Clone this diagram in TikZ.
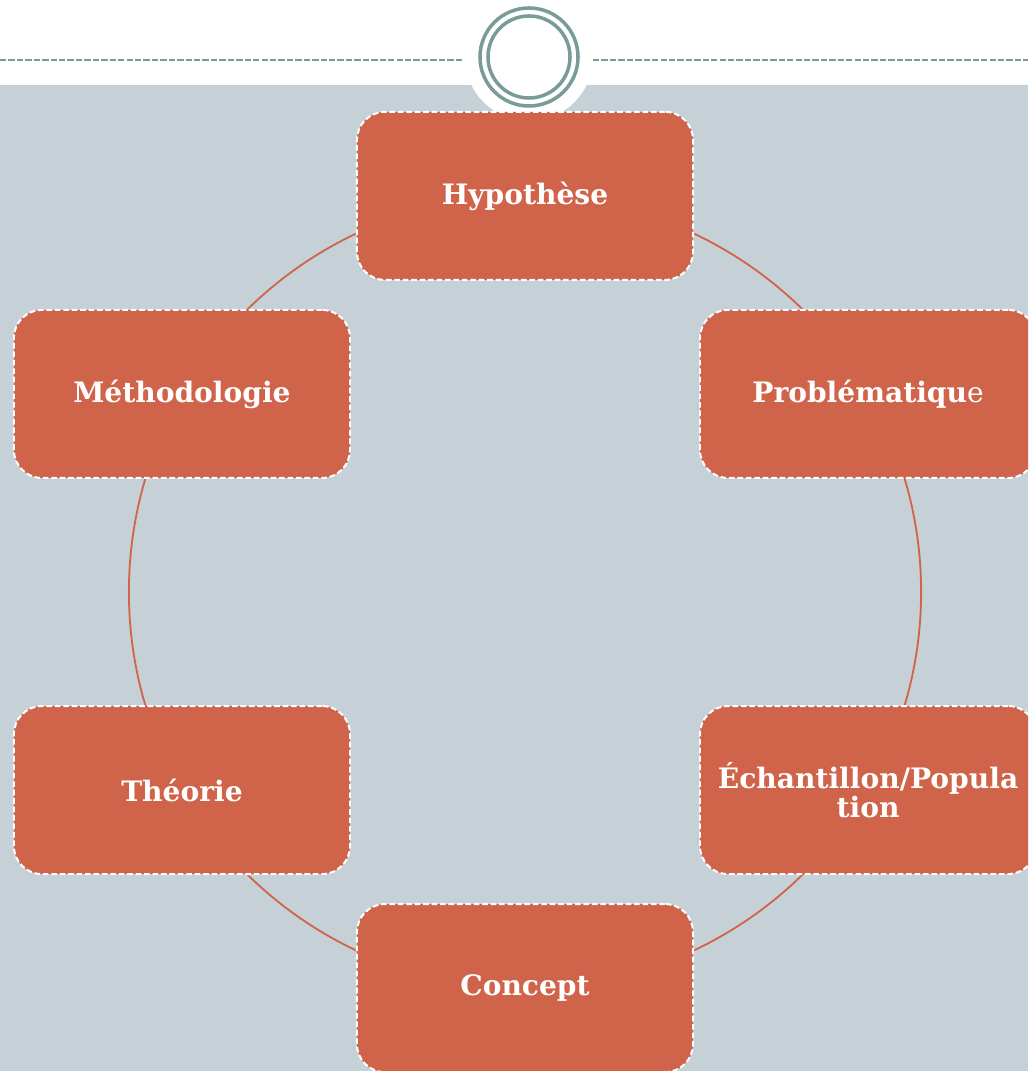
\documentclass[tikz,border=0pt]{standalone}
\usepackage{fontspec}
\setmainfont{DejaVu Serif}
\usetikzlibrary{positioning}
\definecolor{boxred}{RGB}{208,100,74}
\definecolor{bggray}{RGB}{197,209,215}
\definecolor{ringteal}{RGB}{122,156,152}

\begin{document}
\begin{tikzpicture}[x=0.025cm, y=0.025cm,
    box/.style={draw=white, dash pattern=on 4pt off 2pt, line width=1.4pt,
      fill=boxred, rounded corners=0.7cm, minimum width=8.4cm, minimum height=4.2cm,
      text=white, align=center, font=\fontsize{20}{19}\selectfont\bfseries},
    cycleline/.style={draw=boxred, line width=1.3pt},
    topline/.style={draw=ringteal, dash pattern=on 4.5pt off 1.5pt, line width=1pt}]
    \useasboundingbox (0,0) rectangle (1028,1071);
    \clip (0,0) rectangle (1028,1071);
    \fill[white] (0,0) rectangle (1028,1071);
    \fill[bggray] (0,0) rectangle (1028,986);

    \draw[topline] (0,1011) -- (463,1011);
    \draw[topline] (593,1011) -- (1028,1011);
    \coordinate (ring) at (529,1014);
    \fill[white] (ring) circle (1.6cm);
    \draw[ringteal, line width=2.5pt] (ring) circle (1.225cm);
    \draw[ringteal, line width=2.5pt] (ring) circle (1.025cm);

    \coordinate (ctr) at (525,479);
    \draw[cycleline] (ctr) circle (9.9cm);

    \node[box](hyp) at ([shift={(90:9.9cm)}]ctr) {Hypothèse};
    \node[box](prob) at ([shift={(30:9.9cm)}]ctr) {Problématiqu{\mdseries e}};
    \node[box](ech) at ([shift={(-30:9.9cm)}]ctr) {Échantillon/Popula\\tion};
    \node[box](conc) at ([shift={(-90:9.9cm)}]ctr) {Concept};
    \node[box](theo) at ([shift={(-150:9.9cm)}]ctr) {Théorie};
    \node[box](meth) at ([shift={(150:9.9cm)}]ctr) {Méthodologie};
\end{tikzpicture}
\end{document}
